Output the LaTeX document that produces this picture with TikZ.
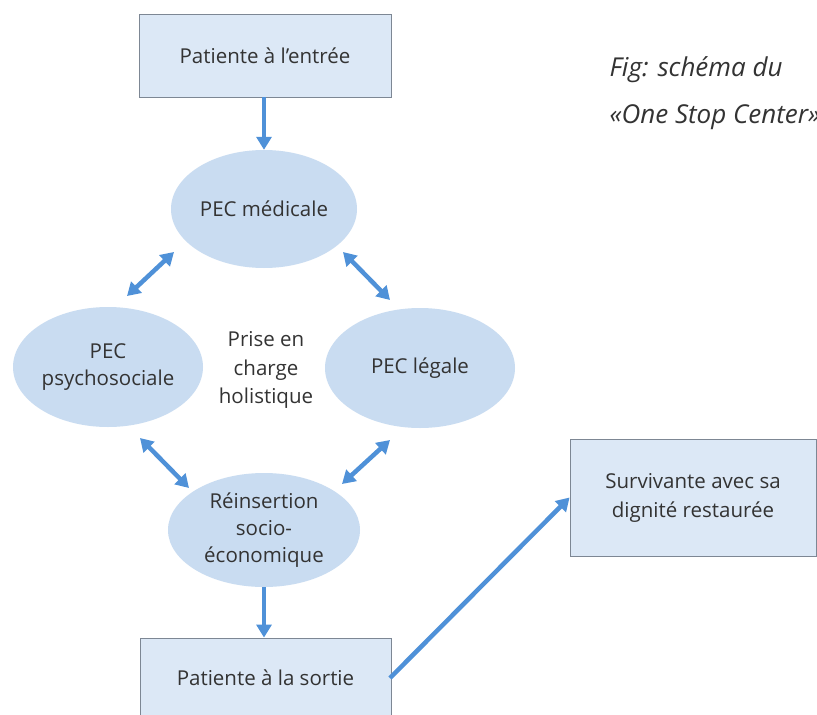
\documentclass[tikz,border=0pt]{standalone}
\usepackage{fontspec}
\setmainfont{Open Sans}
\usetikzlibrary{shapes.geometric,arrows.meta}
\definecolor{boxfill}{HTML}{DCE8F6}
\definecolor{ellfill}{HTML}{C9DCF1}
\definecolor{boxline}{HTML}{7D8794}
\definecolor{arr}{HTML}{4F91D8}
\definecolor{txt}{HTML}{333333}
\tikzset{
  rbox/.style={draw=boxline, line width=0.9pt, fill=boxfill, text=txt, inner sep=0pt, align=center, font=\fontsize{20.5}{29}\selectfont},
  ell/.style={ellipse, fill=ellfill, text=txt, inner sep=0pt, align=center, font=\fontsize{20.5}{27}\selectfont},
  arrw/.style={draw=arr, line width=4.5pt, -{Triangle[length=13pt,width=15pt]}},
  darrw/.style={draw=arr, line width=4.5pt, {Triangle[length=13pt,width=15pt]}-{Triangle[length=13pt,width=15pt]}},
}
\begin{document}
\begin{tikzpicture}[x=1pt,y=-1pt]
\useasboundingbox[fill=white] (0,0) rectangle (817,715);
\node[rbox, minimum width=252pt, minimum height=83pt] (in) at (265,55.5) {Patiente à l’entrée};
\node[ell, minimum width=186pt, minimum height=118pt] (med) at (264,209) {PEC médicale};
\node[ell, minimum width=190pt, minimum height=120pt] (psy) at (108,367) {PEC\\psychosociale};
\node[ell, minimum width=190pt, minimum height=120pt] (leg) at (420,368) {PEC légale};
\node[text=txt, align=center, font=\fontsize{20.5}{28.5}\selectfont] (hol) at (266,370) {Prise en\\charge\\holistique};
\node[ell, minimum width=192pt, minimum height=114pt] (rei) at (264,530) {Réinsertion\\socio-\\économique};
\node[rbox, minimum width=251pt, minimum height=80pt] (out) at (265.5,678) {Patiente à la sortie};
\node[rbox, minimum width=246pt, minimum height=117pt] (sur) at (693,497.5) {Survivante avec sa\\dignité restaurée};
\node[text=txt, anchor=west, font=\fontsize{26}{47}\selectfont\itshape, align=left] (cap) at (606,93) {Fig: schéma du\\«One Stop Center»};
\draw[arrw] (in.south -| med.north) -- (med.north);
\draw[arrw] (rei.south) -- (rei.south |- out.north);
\coordinate (p1) at (127,296);
\coordinate (p2) at (174,252);
\coordinate (p3) at (343,252);
\coordinate (p4) at (390,300);
\coordinate (p5) at (140,438);
\coordinate (p6) at (189,488);
\coordinate (p7) at (342,484);
\coordinate (p8) at (390,440);
\draw[darrw] (p1) -- (p2);
\draw[darrw] (p3) -- (p4);
\draw[darrw] (p5) -- (p6);
\draw[darrw] (p7) -- (p8);
\coordinate (s1) at (390,678);
\draw[arrw] (s1) -- (sur.west);
\end{tikzpicture}
\end{document}
